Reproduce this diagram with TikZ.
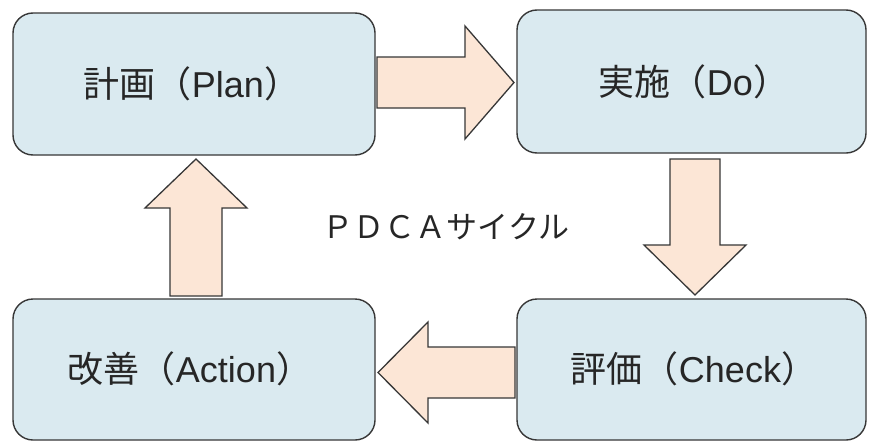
\documentclass[tikz,border=0pt]{standalone}
\usepackage{fontspec}
\setmainfont{Liberation Sans}
\newfontfamily\cjk{Noto Sans CJK JP}
\definecolor{boxfill}{RGB}{218,234,240}
\definecolor{arrfill}{RGB}{252,230,214}
\definecolor{edge}{RGB}{55,55,55}
\begin{document}
\begin{tikzpicture}[x=1pt,y=-1pt,
  stagebox/.style={draw=edge,line width=1.4pt,fill=boxfill,rounded corners=20pt},
  blockarrow/.style={draw=edge,line width=1.3pt,fill=arrfill,line join=miter},
  lbl/.style={font=\fontsize{36}{40}\selectfont,text=black!85},
]
\useasboundingbox (0,0) rectangle (870,442);
\fill[white] (0,0) rectangle (870,442);
% boxes
\draw[stagebox] (13,13) rectangle (375,155);
\draw[stagebox] (517,10) rectangle (866,153);
\draw[stagebox] (517,299) rectangle (866,440);
\draw[stagebox] (13,299) rectangle (375,440);
\node[lbl] (plan) at (192,84) {{\cjk 計画（}Plan{\cjk ）}};
\node[lbl] (do) at (694,82) {{\cjk 実施（}Do{\cjk ）}};
\node[lbl] (check) at (694,369) {{\cjk 評価（}Check{\cjk ）}};
\node[lbl] (act) at (190,369) {{\cjk 改善（}Action{\cjk ）}};
\node[font=\fontsize{31}{34}\selectfont\cjk,text=black!85] (title) at (446,227) {ＰＤＣＡサイクル};
% arrows
\draw[blockarrow] (377,57) -- (465,57) -- (465,26) -- (514,82.5) -- (465,139) -- (465,108) -- (377,108) -- cycle;
\draw[blockarrow] (670,159) -- (720,159) -- (720,245) -- (746,245) -- (695,295) -- (644,245) -- (670,245) -- cycle;
\draw[blockarrow] (515,347) -- (428,347) -- (428,322) -- (378,372.5) -- (428,423) -- (428,398) -- (515,398) -- cycle;
\draw[blockarrow] (170,296) -- (170,208) -- (145,208) -- (196,159) -- (247,208) -- (222,208) -- (222,296) -- cycle;
\end{tikzpicture}
\end{document}
